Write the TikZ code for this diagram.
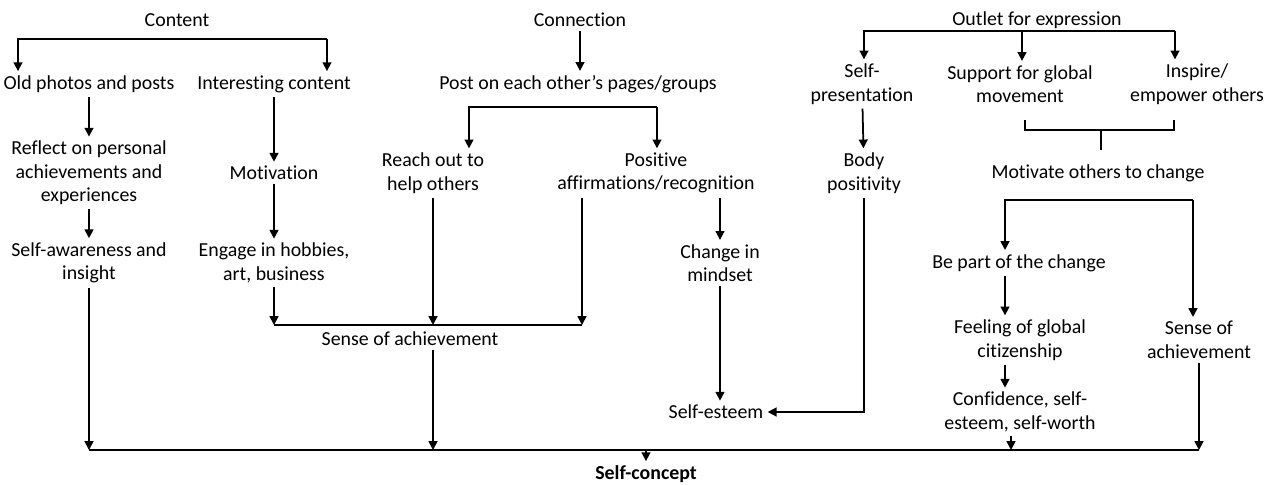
\documentclass[tikz,border=0pt]{standalone}
\usepackage{fontspec}
\setmainfont{Carlito}[Ligatures={NoCommon}]
\usepackage{tikz}
\usetikzlibrary{arrows.meta,calc}
\tikzset{
  lbl/.style={align=center, inner sep=2pt, font=\fontsize{11.3}{13.4}\selectfont},
  arr/.style={-{Triangle[length=5pt,width=5pt]}},
  line/.style={line width=1pt}
}

\begin{document}
\begin{tikzpicture}[x=0.02cm,y=-0.02cm,line width=1pt]
\useasboundingbox (0,0) rectangle (1279,484);
\node[lbl] (content) at (177,20) {Content};
\node[lbl] (old) at (89,84) {Old photos and posts};
\node[lbl] (interest) at (274,84) {Interesting content};
\node[lbl] (reflect) at (89,173) {Reflect on personal\\achievements and\\experiences};
\node[lbl] (motiv) at (274,173) {Motivation};
\node[lbl] (selfaw) at (89,263) {Self-awareness and\\insight};
\node[lbl] (engage) at (274,263) {Engage in hobbies,\\art, business};
\node[lbl] (connection) at (580,20) {Connection};
\node[lbl] (post) at (578,84) {Post on each other’s pages/groups};
\node[lbl] (reach) at (433,173) {Reach out to\\help others};
\node[lbl] (positive) at (656,173) {Positive\\affirmations/recognition};
\node[lbl] (changemind) at (720,263) {Change in\\mindset};
\node[lbl] (sense) at (410,339) {Sense of achievement};
\node[lbl] (selfesteem) at (716,412) {Self-esteem};
\node[lbl] (outlet) at (1037,20) {Outlet for expression};
\node[lbl] (selfpres) at (862,84) {Self-\\presentation};
\node[lbl] (support) at (1020,84) {Support for global\\movement};
\node[lbl] (inspire) at (1197,84) {Inspire/\\empower others};
\node[lbl] (body) at (864,173) {Body\\positivity};
\node[lbl] (motivate) at (1098,173) {Motivate others to change};
\node[lbl] (bepart) at (1019,263) {Be part of the change};
\node[lbl] (feeling) at (1020,340) {Feeling of global\\citizenship};
\node[lbl] (conf) at (1020,412) {Confidence, self-\\esteem, self-worth};
\node[lbl] (sense2) at (1199,340) {Sense of\\achievement};
\node[lbl] (selfconcept) at (646,474) {\textbf{Self-concept}};
\coordinate (cL) at (18,39);
\coordinate (cR) at (327,39);
\coordinate (pL) at (469,107);
\coordinate (pR) at (657,107);
\coordinate (oL) at (864,31);
\coordinate (oM) at (1022,31);
\coordinate (oR) at (1175,31);
\coordinate (bL) at (1025,120);
\coordinate (bR) at (1174,120);
\coordinate (bM) at (1101,130);
\coordinate (bS) at (1101,150);
\coordinate (mL) at (1005,200);
\coordinate (mR) at (1193,200);
\coordinate (sj) at (433,325);
\coordinate (sjR) at (582,325);
\coordinate (cB) at (1011,450);
\coordinate (base) at (646,450);
\draw[arr] (cR) -- (cL) -- (cL |- old.north);
\draw[arr] (cR) -- (cR |- interest.north);
\draw[arr] (old) -- (reflect);
\draw[arr] (reflect) -- (selfaw);
\draw[arr] (interest) -- (motiv);
\draw[arr] (motiv) -- (engage);
\draw[arr] (connection) -- (connection |- post.north);
\draw[arr] (pR) -- (pL) -- (pL |- reach.north);
\draw[arr] (pR) -- (pR |- positive.north);
\draw[arr] (engage) -- (engage |- sj);
\draw[arr] (reach) -- (reach |- sj);
\draw[arr] (positive.south -| sjR) -- (sjR);
\draw (engage |- sj) -- (sjR);
\draw[arr] (positive.south -| changemind) -- (changemind);
\draw[arr] (changemind) -- (changemind |- selfesteem.north);
\draw[arr] (oR) -- (oL) -- (oL |- selfpres.north);
\draw[arr] (oM) -- (oM |- support.north);
\draw[arr] (oR) -- (oR |- inspire.north);
\draw[arr] (selfpres) -- (body);
\draw[arr] (body) |- (selfesteem);
\draw (bL) -- (bL |- bM) -- (bR |- bM) -- (bR);
\draw (bM) -- (bS);
\draw[arr] (mR) -- (mL) -- (mL |- bepart.north);
\draw[arr] (mR) -- (mR |- sense2.north);
\draw[arr] (bepart.south -| mL) -- (feeling.north -| mL);
\draw[arr] (feeling.south -| mL) -- (conf.north -| mL);
\draw[arr] (conf.south -| cB) -- (cB);
\draw[arr] (selfaw) -- (selfaw |- base);
\draw[arr] (sense.south -| sj) -- (sj |- base);
\draw[arr] (sense2) -- (sense2 |- base);
\draw (selfaw |- base) -- (sense2 |- base);
\draw[arr] (base) -- (selfconcept);
\end{tikzpicture}
\end{document}
